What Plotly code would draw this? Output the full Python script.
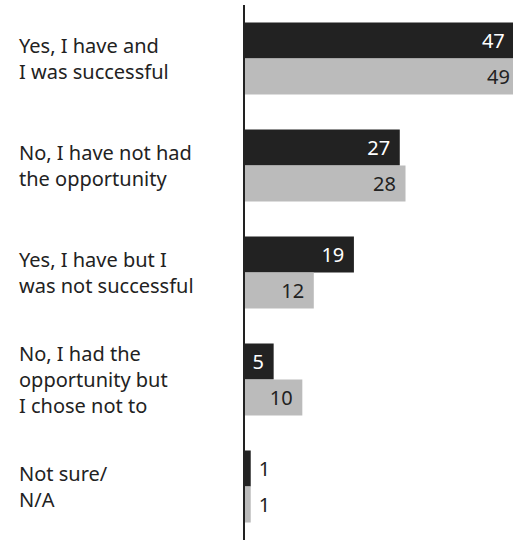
import plotly.graph_objects as go

categories = [
    "Yes, I have and<br>I was successful",
    "No, I have not had<br>the opportunity",
    "Yes, I have but I<br>was not successful",
    "No, I had the<br>opportunity but<br>I chose not to",
    "Not sure/<br>N/A",
]
series_a = [47, 27, 19, 5, 1]
series_b = [49, 28, 12, 10, 1]

FONT = "Noto Sans"
FS = 20
XMAX = 46.75       # visible end of the value axis (bars may run past it)
OVER = 1.7         # beyond XMAX + OVER a label would leave the view
SP = "\u2004"      # 1/3 em space used as inner padding
SP_OUT = "\u2005"  # 1/4 em space before outside labels


def positions(vals):
    return ["outside" if v < 3 else "inside" for v in vals]


def templates(vals):
    out = []
    for v in vals:
        if v < 3:
            out.append(SP_OUT + "%{x}")
        elif v > XMAX + OVER:
            out.append("")          # label drawn by the clamped label trace
        else:
            out.append("%{x}" + SP)
    return out


def add_series(vals, color, txtcolor, group):
    fig.add_trace(go.Bar(
        y=categories, x=vals, orientation="h", offsetgroup=group,
        marker=dict(color=color, line=dict(width=0)),
        textposition=positions(vals), texttemplate=templates(vals),
        insidetextfont=dict(color=txtcolor, size=FS, family=FONT),
        outsidetextfont=dict(color="#222222", size=FS, family=FONT),
        constraintext="none", insidetextanchor="end", cliponaxis=True,
        hoverinfo="skip",
    ))
    # labels of bars that run past the visible edge, kept inside the view
    clamped = [XMAX if v > XMAX + OVER else None for v in vals]
    if any(c is not None for c in clamped):
        fig.add_trace(go.Bar(
            y=categories, x=clamped, orientation="h", offsetgroup=group,
            marker=dict(color="rgba(0,0,0,0)", line=dict(width=0)),
            text=[str(v) for v in vals], texttemplate="%{text}",
            textposition="inside", insidetextanchor="end",
            insidetextfont=dict(color=txtcolor, size=FS, family=FONT),
            constraintext="none", cliponaxis=True, hoverinfo="skip",
        ))


fig = go.Figure()
add_series(series_a, "#222222", "#ffffff", "a")
add_series(series_b, "#bbbbbb", "#222222", "b")

for c in categories:
    fig.add_annotation(
        x=0, xref="paper", xshift=-228, xanchor="left",
        y=c, yref="y", yanchor="middle",
        text=c, align="left", showarrow=False,
        font=dict(size=FS, color="#222222", family=FONT),
    )

fig.update_layout(
    width=513, height=540,
    margin=dict(l=245, r=0, t=5, b=0),
    paper_bgcolor="white", plot_bgcolor="white",
    barmode="group", bargap=0.327, bargroupgap=0,
    showlegend=False,
    font=dict(family=FONT, size=FS, color="#222222"),
    xaxis=dict(range=[0, XMAX], visible=False, showgrid=False, zeroline=False),
    yaxis=dict(autorange="reversed", showticklabels=False, ticks="",
               showgrid=False, zeroline=False,
               showline=True, linecolor="#222222", linewidth=1.5),
)

fig.write_html("out.html")
